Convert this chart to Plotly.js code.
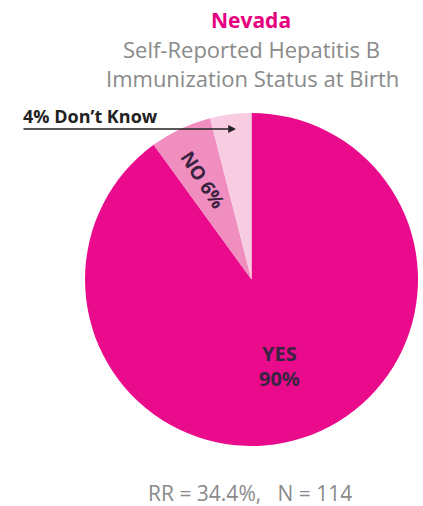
<!DOCTYPE html>
<html><head><meta charset="utf-8">
<script src="https://cdn.plot.ly/plotly-3.0.1.min.js"></script>
<style>html,body{margin:0;padding:0;background:#fff;}#c{width:423px;height:506px;}</style>
</head><body><div id="c"></div>
<script>
const labels = ["YES", "NO", "Don't Know"];
const values = [90, 6, 4];
const sliceColors = ["#ea0a8c", "#f08ec0", "#f8cde2"];
const titleMain = "Nevada";
const titleSub1 = "Self-Reported Hepatitis B";
const titleSub2 = "Immunization Status at Birth";
const footnote = "RR = 34.4%,   N = 114";

const W = 423, H = 506;
const px = x => x / W, py = y => 1 - y / H;
const font = "'Open Sans', Lato, sans-serif";
const dark = '#3a2340';

const data = [{
  type: 'pie',
  labels: labels,
  values: values,
  sort: false,
  direction: 'clockwise',
  rotation: 0,
  marker: {colors: sliceColors, line: {width: 0}},
  textinfo: 'none',
  hoverinfo: 'none',
  showlegend: false,
  domain: {x: [px(85), px(418)], y: [py(446), py(113)]}
}];

const base = {xref: 'paper', yref: 'paper', showarrow: false, xanchor: 'center', yanchor: 'middle'};

const layout = {
  width: W, height: H,
  margin: {l: 0, r: 0, t: 0, b: 0},
  paper_bgcolor: '#fff',
  showlegend: false,
  annotations: [
    Object.assign({}, base, {text: '<b>' + titleMain + '</b>', x: px(251), y: py(20),
     font: {family: font, size: 21, color: '#e6007e'}}),
    Object.assign({}, base, {text: titleSub1, x: px(251), y: py(49),
     font: {family: font, size: 22, color: '#8a8a8a'}}),
    Object.assign({}, base, {text: titleSub2, x: px(252), y: py(78),
     font: {family: font, size: 22, color: '#8a8a8a'}}),
    Object.assign({}, base, {text: '<b>' + labels[0] + '</b>', x: px(279), y: py(353),
     font: {family: font, size: 20, color: dark}}),
    Object.assign({}, base, {text: '<b>' + values[0] + '%</b>', x: px(279), y: py(378),
     font: {family: font, size: 20, color: dark}}),
    Object.assign({}, base, {text: '<b>' + labels[1] + ' ' + values[1] + '%</b>', x: px(203), y: py(180),
     textangle: 57, font: {family: font, size: 19, color: dark}}),
    Object.assign({}, base, {text: '<b>' + values[2] + '% ' + "Don’t Know" + '</b>', x: px(21), y: py(130),
     xanchor: 'left', yanchor: 'bottom',
     font: {family: font, size: 18, color: '#222'}}),
    {text: '', xref: 'paper', yref: 'paper', x: px(236), y: py(129), ax: -214, ay: 0,
     showarrow: true, arrowhead: 2, arrowsize: 1.2, arrowwidth: 1.3, arrowcolor: '#222', standoff: 0},
    Object.assign({}, base, {text: footnote, x: px(250), y: py(493),
     font: {family: font, size: 21, color: '#8a8a8a'}})
  ]
};

Plotly.newPlot('c', data, layout, {staticPlot: true, displayModeBar: false});
</script>
</body></html>
